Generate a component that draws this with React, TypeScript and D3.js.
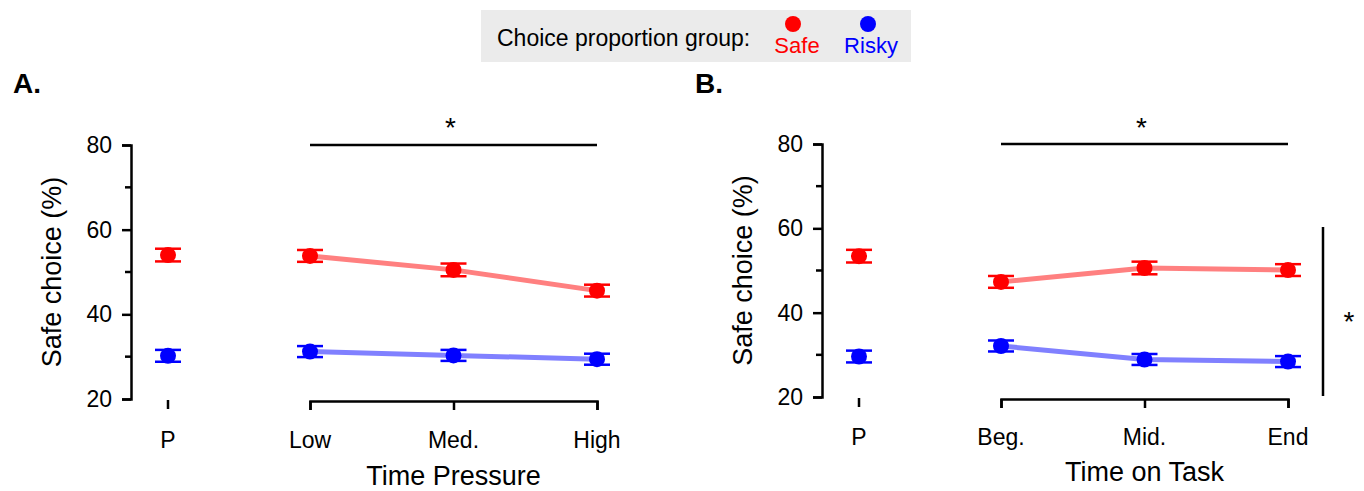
import React, { useEffect, useRef } from 'react';
import * as d3 from 'd3';

// panel A: time pressure
const pressureLabels = ['Low', 'Med.', 'High'];
const pressureSafe = [53.8, 50.5, 45.6];
const pressureSafeErr = [1.4, 1.5, 1.4];
const pressureRisky = [31.2, 30.3, 29.4];
const pressureRiskyErr = [1.3, 1.3, 1.3];
const pressurePSafe = 54.0;
const pressurePSafeErr = 1.5;
const pressurePRisky = 30.2;
const pressurePRiskyErr = 1.4;

// panel B: time on task
const taskLabels = ['Beg.', 'Mid.', 'End'];
const taskSafe = [47.3, 50.6, 50.1];
const taskSafeErr = [1.4, 1.5, 1.4];
const taskRisky = [32.1, 28.9, 28.4];
const taskRiskyErr = [1.3, 1.3, 1.3];
const taskPSafe = 53.4;
const taskPSafeErr = 1.5;
const taskPRisky = 29.6;
const taskPRiskyErr = 1.4;

const yTicks = [20, 40, 60, 80];
const yMinorTicks = [30, 50, 70];

const FONT = '"Liberation Sans", Arial, Helvetica, sans-serif';
const RED = '#ff0000';
const BLUE = '#0000ff';

function Marker({ x, y, err, color }) {
    const cap = 13;
    return (
        <g stroke={color} strokeWidth="2.5" fill={color}>
            <line x1={x} x2={x} y1={y(err[0])} y2={y(err[1])} />
            <line x1={x - cap} x2={x + cap} y1={y(err[0])} y2={y(err[0])} />
            <line x1={x - cap} x2={x + cap} y1={y(err[1])} y2={y(err[1])} />
            <circle cx={x} cy={y((err[0] + err[1]) / 2)} r={8} stroke="none" />
        </g>
    );
}

function Panel({ letter, letterX, axisX, yTop, yBottom, pX, condRange, bottomY, labels,
    safe, safeErr, risky, riskyErr, pSafe, pSafeErr, pRisky, pRiskyErr, xTitle, xTitleY, labelY }) {
    const yRef = useRef(null);
    const xRef = useRef(null);

    const y = d3.scaleLinear([20, 80], [yBottom, yTop]);
    const x = d3.scalePoint(labels, condRange);

    useEffect(() => {
        const ya = d3.select(yRef.current);
        ya.selectAll('*').remove();
        ya.call(d3.axisLeft(y).tickValues(yTicks).tickSize(9).tickSizeOuter(9).tickPadding(10));
        ya.select('.domain').attr('stroke-width', 2.5);
        ya.selectAll('.tick line').attr('stroke-width', 2.5);
        ya.selectAll('.tick text').attr('font-size', 23).attr('font-family', FONT).attr('fill', '#000');
        ya.selectAll('.minor').data(yMinorTicks).join('line')
            .attr('class', 'minor')
            .attr('x1', -6).attr('x2', 0)
            .attr('y1', d => y(d)).attr('y2', d => y(d))
            .attr('stroke', '#000').attr('stroke-width', 2.5);

        const xa = d3.select(xRef.current);
        xa.selectAll('*').remove();
        xa.call(d3.axisBottom(x).tickSize(9).tickSizeOuter(9).tickFormat(() => ''));
        xa.select('.domain').attr('stroke-width', 2.5);
        xa.selectAll('.tick line').attr('stroke-width', 2.5);
    });

    const line = d3.line((d, i) => x(labels[i]), d => y(d));

    return (
        <g fontFamily={FONT}>
            <text x={letterX} y={93} fontSize={28} fontWeight="bold">{letter}</text>
            <g ref={yRef} transform={`translate(${axisX},0)`} />
            <g ref={xRef} transform={`translate(0,${bottomY})`} />
            <line x1={pX} x2={pX} y1={yBottom + 1} y2={yBottom + 10} stroke="#000" strokeWidth="2.5" />
            <text x={pX} y={labelY} fontSize={23} textAnchor="middle">P</text>
            {labels.map(l => (
                <text key={l} x={x(l)} y={labelY} fontSize={23} textAnchor="middle">{l}</text>
            ))}
            <text x={x(labels[1])} y={xTitleY} fontSize={27} textAnchor="middle">{xTitle}</text>
            <text transform={`translate(${axisX - 70},${(yTop + yBottom) / 2}) rotate(-90)`}
                fontSize={27} textAnchor="middle">Safe choice (%)</text>

            {/* significance bar on top */}
            <line x1={condRange[0]} x2={condRange[1]} y1={yTop} y2={yTop} stroke="#000" strokeWidth="2.5" />
            <text x={(condRange[0] + condRange[1]) / 2 - 3} y={137} fontSize={28} textAnchor="middle">*</text>

            <path d={line(safe)} fill="none" stroke="#ff8080" strokeWidth="5" />
            <path d={line(risky)} fill="none" stroke="#8080ff" strokeWidth="5" />

            <Marker x={pX} y={y} err={[pSafe - pSafeErr, pSafe + pSafeErr]} color={RED} />
            <Marker x={pX} y={y} err={[pRisky - pRiskyErr, pRisky + pRiskyErr]} color={BLUE} />
            {safe.map((v, i) => (
                <Marker key={'s' + i} x={x(labels[i])} y={y} err={[v - safeErr[i], v + safeErr[i]]} color={RED} />
            ))}
            {risky.map((v, i) => (
                <Marker key={'r' + i} x={x(labels[i])} y={y} err={[v - riskyErr[i], v + riskyErr[i]]} color={BLUE} />
            ))}
        </g>
    );
}

export default function App() {
    return (
        <svg width={1364} height={491} style={{ position: 'absolute', left: 0, top: 0, background: '#fff' }}>
            <g fontFamily={FONT}>
                <rect x={481} y={10} width={430} height={52} fill="#ebebeb" />
                <text x={497} y={46} fontSize={23}>Choice proportion group:</text>
                <circle cx={793} cy={24} r={8} fill={RED} />
                <text x={797} y={53} fontSize={22} fill={RED} textAnchor="middle">Safe</text>
                <circle cx={868} cy={24} r={8} fill={BLUE} />
                <text x={871} y={53} fontSize={22} fill={BLUE} textAnchor="middle">Risky</text>
            </g>

            <Panel letter="A." letterX={13} axisX={131} yTop={145} yBottom={399} pX={168}
                condRange={[310, 597]} bottomY={401} labels={pressureLabels}
                safe={pressureSafe} safeErr={pressureSafeErr} risky={pressureRisky} riskyErr={pressureRiskyErr}
                pSafe={pressurePSafe} pSafeErr={pressurePSafeErr} pRisky={pressurePRisky} pRiskyErr={pressurePRiskyErr}
                xTitle="Time Pressure" xTitleY={485} labelY={448} />

            <Panel letter="B." letterX={695} axisX={822} yTop={144} yBottom={397} pX={859}
                condRange={[1001, 1288]} bottomY={399} labels={taskLabels}
                safe={taskSafe} safeErr={taskSafeErr} risky={taskRisky} riskyErr={taskRiskyErr}
                pSafe={taskPSafe} pSafeErr={taskPSafeErr} pRisky={taskPRisky} pRiskyErr={taskPRiskyErr}
                xTitle="Time on Task" xTitleY={481} labelY={445} />

            {/* vertical significance bar between groups */}
            <line x1={1323} x2={1323} y1={227} y2={396} stroke="#000" strokeWidth="2.5" />
            <text x={1349} y={331} fontSize={28} fontFamily={FONT} textAnchor="middle">*</text>
        </svg>
    );
}
